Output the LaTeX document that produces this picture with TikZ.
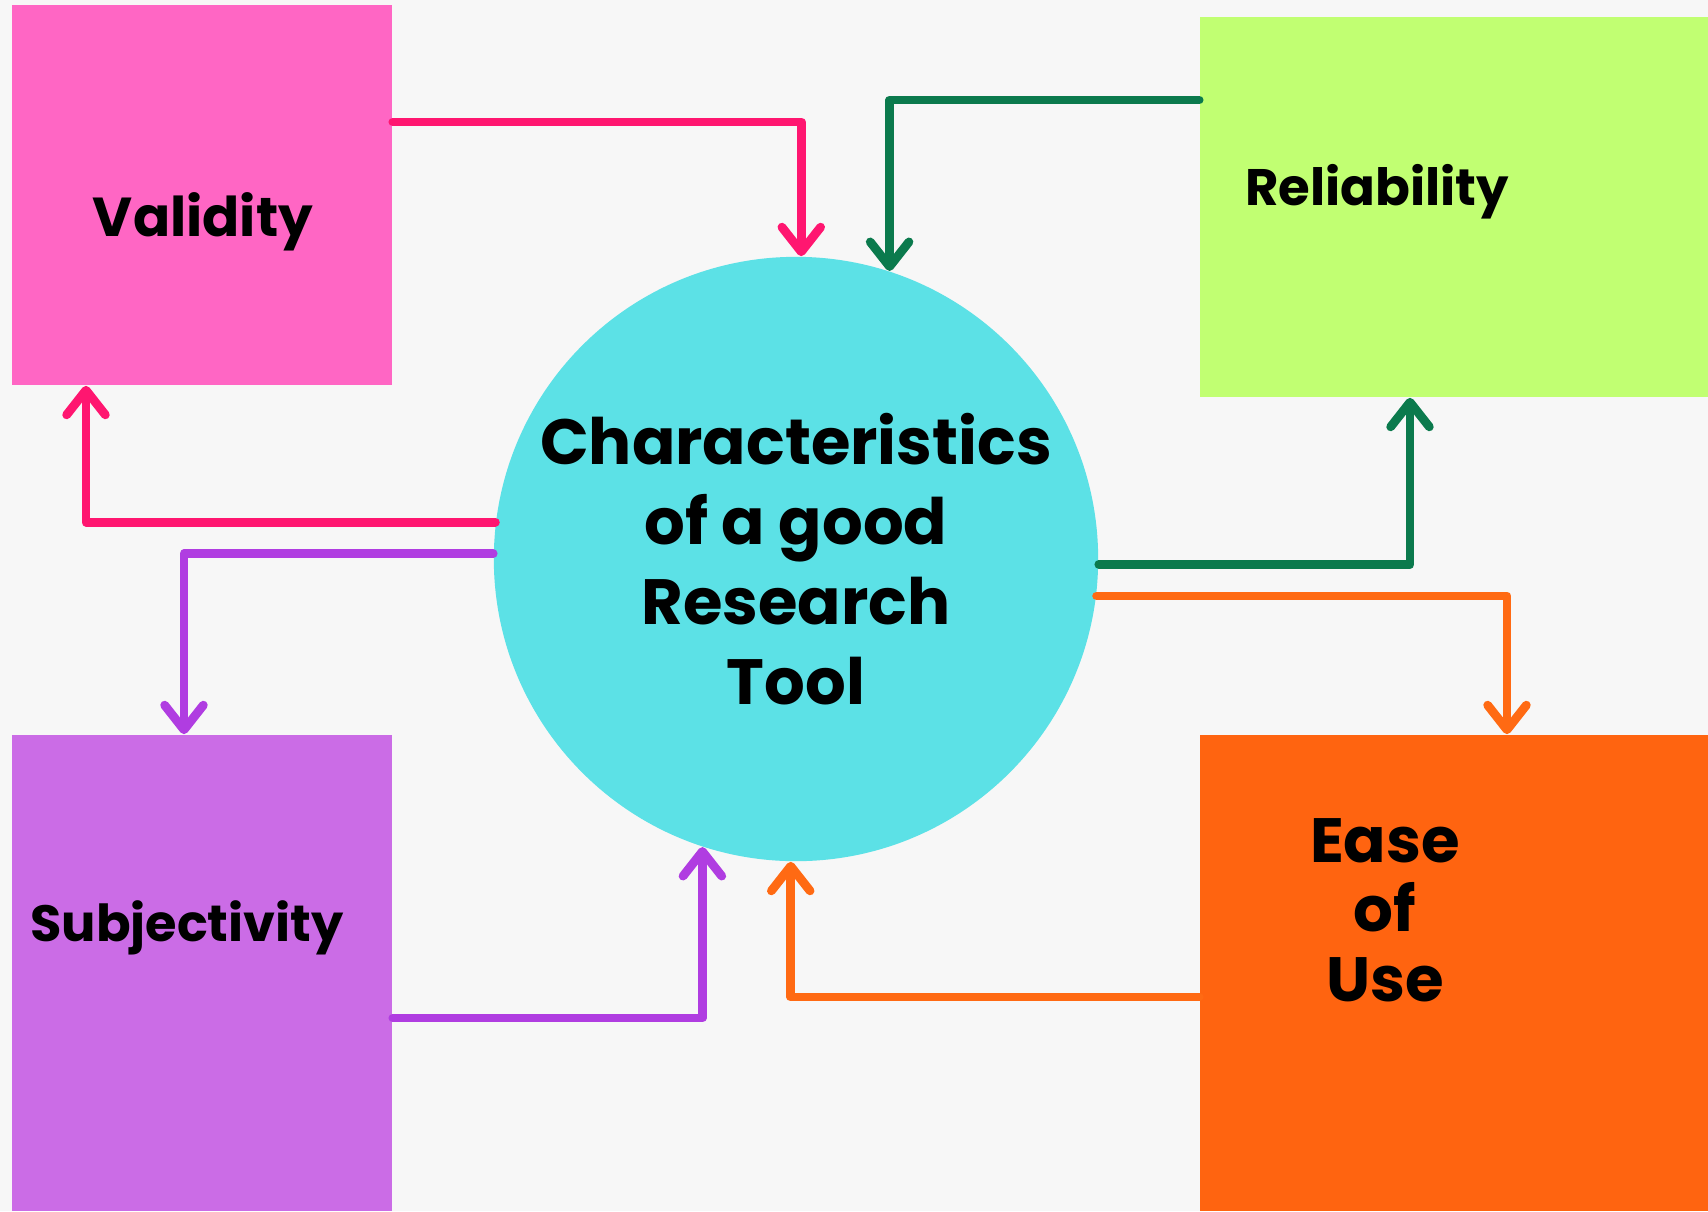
\documentclass[tikz,border=0pt]{standalone}
\usepackage{fontspec}
\setmainfont{Poppins}
\usetikzlibrary{arrows.meta}
\definecolor{bgcol}{HTML}{F7F7F7}
\definecolor{validcol}{HTML}{FF66C4}
\definecolor{reliabcol}{HTML}{C1FF72}
\definecolor{subjcol}{HTML}{CB6CE6}
\definecolor{easecol}{HTML}{FF6410}
\definecolor{toolcol}{HTML}{5CE1E6}
\definecolor{pinkline}{HTML}{FF1670}
\definecolor{greenline}{HTML}{0B7A4D}
\definecolor{purpleline}{HTML}{B03DE1}
\definecolor{orangeline}{HTML}{FF6A13}

\begin{document}
\begin{tikzpicture}[x=0.01cm, y=-0.01cm,
  box/.style={rectangle, inner sep=0pt, minimum width=3.8cm, minimum height=3.8cm},
  word/.style={font=\bfseries\fontsize{#1}{20}\selectfont, align=center},
  link/.style={line width=2.5pt, line cap=round, line join=round,
    -{Straight Barb[length=7pt, width=11pt, round]}}]
\fill[bgcol] (0,0) rectangle (1708,1211);
\useasboundingbox (0,0) rectangle (1708,1211);
% the four boxes
\node[box, fill=validcol] (valid) at (202,195) {};
\node[box, fill=reliabcol, minimum width=5.08cm] (reliab) at (1454,207) {};
\node[box, fill=subjcol, minimum height=4.76cm] (subj) at (202,973) {};
\node[box, fill=easecol, minimum width=5.08cm, minimum height=4.76cm] (ease) at (1454,973) {};
\node[word=15.6] (validtext) at (203,222) {Validity};
\node[word=14.6] (reliabtext) at (1377,192) {Reliability};
\node[word=14.5] (subjtext) at (187,928) {Subjectivity};
\node[word=17.8, font=\bfseries\fontsize{17.8}{19.8}\selectfont] (easetext) at (1385,910)
  {Ease\\of\\Use};
% the centre
\node[circle, fill=toolcol, inner sep=0pt, minimum size=6.04cm,
  font=\bfseries\fontsize{18.2}{22.8}\selectfont, align=center] (tool) at (796,559)
  {Characteristics\\of a good\\Research\\Tool};
% arrows
\draw[link, pinkline] (valid.east |- 0,122) -| (tool.89);
\draw[link, pinkline] (tool.173) -| (valid.south -| 86,0);
\draw[link, greenline] (reliab.west |- 0,100) -| (tool.72);
\draw[link, greenline] (tool.-1) -| (reliab.south -| 1410,0);
\draw[link, purpleline] (tool.179) -| (subj.north -| 184,0);
\draw[link, purpleline] (subj.east |- 0,1018) -| (tool.252);
\draw[link, orangeline] (tool.-7) -| (ease.north -| 1507,0);
\draw[link, orangeline] (ease.west |- 0,997) -| (tool.-91);
\end{tikzpicture}
\end{document}
